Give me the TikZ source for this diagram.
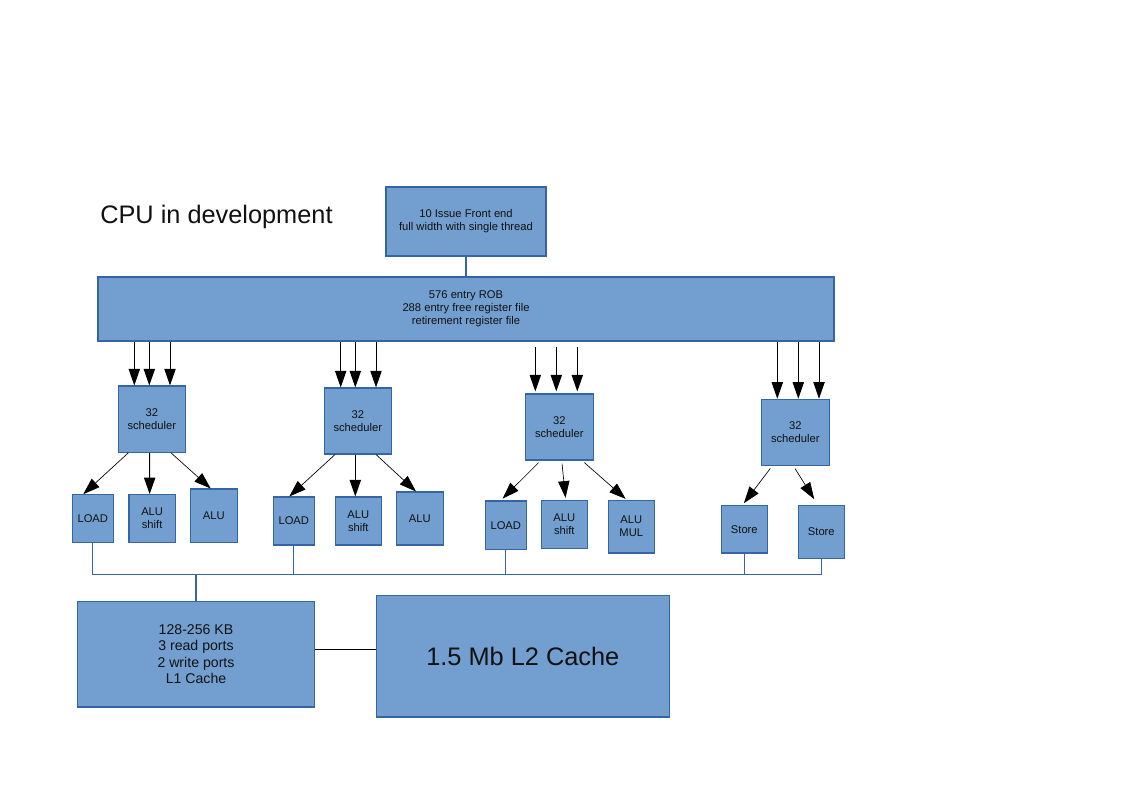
\documentclass[tikz,border=0pt]{standalone}
\usepackage{fontspec}
\setmainfont{Liberation Sans}
\usetikzlibrary{arrows.meta}
\definecolor{boxfill}{HTML}{729FCF}
\definecolor{boxline}{HTML}{3465A4}
\definecolor{txt}{HTML}{111111}
\begin{document}
\begin{tikzpicture}[x=0.75pt,y=-0.75pt,
  box/.style={draw=boxline,fill=boxfill,line width=0.8pt,inner sep=0pt,align=center,text=txt,font=\fontsize{8.4}{9.75}\selectfont},
  sz/.style 2 args={minimum width=#1*0.75pt,minimum height=#2*0.75pt},
  arr/.style={draw=black,line width=0.75pt,-{Triangle[length=12.5pt,width=8.5pt]}},
  thinarr/.style={arr,line width=0.5pt},
  link/.style={draw=boxline,line width=0.9pt},
]
\useasboundingbox (0,0) rectangle (1123,794);

% title
\node[anchor=base west,inner sep=0pt,text=txt,font=\fontsize{19}{23}\selectfont] (title) at (100,223.5) {CPU in development};

% front end and ROB
\node[box,sz={160}{69}] (fe) at (466,221.5) {10 Issue Front end\\full width with single thread};
\node[box,sz={736}{64}] (rob) at (466,309) {576 entry ROB\\288 entry free register file\\retirement register file};

% schedulers
\node[box,sz={67}{66.3}] (s1) at (151.8,419.15) {32\\scheduler};
\node[box,sz={67}{66}] (s2) at (357.8,421) {32\\scheduler};
\node[box,sz={68}{66}] (s3) at (559.3,427) {32\\scheduler};
\node[box,sz={68}{66}] (s4) at (795.3,432.3) {32\\scheduler};

% execution units
\node[box,sz={41}{47.6}] (load1) at (92.8,518.5) {LOAD};
\node[box,sz={46.3}{47.6}] (sh1) at (152.15,518.5) {ALU\\shift};
\node[box,sz={47}{53.3}] (alu1) at (213.8,515.65) {ALU};
\node[box,sz={41}{48}] (load2) at (293.8,521) {LOAD};
\node[box,sz={46}{48}] (sh2) at (358.3,521) {ALU\\shift};
\node[box,sz={47}{53}] (alu2) at (419.8,518.5) {ALU};
\node[box,sz={41}{48.3}] (load3) at (505.8,525.15) {LOAD};
\node[box,sz={46}{48}] (sh3) at (564.3,524.3) {ALU\\shift};
\node[box,sz={46}{52.7}] (mul) at (631.3,526.65) {ALU\\MUL};
\node[box,sz={46}{47.7}] (st1) at (744.3,529.15) {Store};
\node[box,sz={46}{53}] (st2) at (821.3,531.8) {Store};

% caches
\node[box,sz={237.4}{105.7},font=\fontsize{10.6}{12.4}\selectfont] (l1) at (196,654.15) {128-256 KB\\3 read ports\\2 write ports\\L1 Cache};
\node[box,sz={293}{121.7},font=\fontsize{19}{23}\selectfont] (l2) at (522.8,656.15) {1.5 Mb L2 Cache};

% front end -> ROB
\draw[link] (fe.south) -- (rob.north);

% ROB -> schedulers
\foreach \n/\d in {s1/-17.5,s1/-2.5,s1/18.2,s2/-17.1,s2/-2.5,s2/18.2,s4/-18,s4/3,s4/23.7}{
  \coordinate (t) at ([shift={(\d,0)}]\n.north);
  \draw[arr] (rob.south -| t) -- (t);
}
\foreach \d in {-24,-3,18}{
  \coordinate (t) at ([shift={(\d,-2)}]s3.north);
  \draw[arr,shorten <=4pt] (rob.south -| t) -- (t);
}

% schedulers -> units
\draw[thinarr] ([shift={(-23.5,0)}]s1.south) -- ([shift={(-9.5,0)}]load1.north);
\draw[arr] ([shift={(-2.1,0)}]s1.south) -- ([shift={(-2.5,0)}]sh1.north);
\draw[thinarr] ([shift={(19.2,0)}]s1.south) -- ([shift={(-3.1,0)}]alu1.north);

\draw[thinarr] ([shift={(-22.8,0)}]s2.south) -- ([shift={(-4.5,0)}]load2.north);
\draw[arr] ([shift={(-2.5,0)}]s2.south) -- ([shift={(-3,0)}]sh2.north);
\draw[thinarr] ([shift={(18.2,0)}]s2.south) -- ([shift={(-3.8,0)}]alu2.north);

\draw[thinarr,shorten <=2.3pt,shorten >=2pt] ([shift={(-18.6,0)}]s3.south) -- ([shift={(-5.1,0)}]load3.north);
\draw[thinarr,shorten <=2.3pt,shorten >=1.5pt] ([shift={(2.4,0)}]s3.south) -- ([shift={(1.4,0)}]sh3.north);
\draw[thinarr,shorten <=2.3pt,shorten >=1pt] ([shift={(22.7,0)}]s3.south) -- ([shift={(-4.6,0)}]mul.north);

\draw[thinarr,shorten <=2.5pt,shorten >=1.5pt] ([shift={(-23,0)}]s4.south) -- ([shift={(-1.6,0)}]st1.north);
\draw[thinarr,shorten <=2.5pt,shorten >=5pt] ([shift={(-2,0)}]s4.south) -- ([shift={(-3.6,0)}]st2.north);

% bus to L1
\coordinate (bus) at (196.3,574.3);
\draw[link] (load1.south) -- (load1.south |- bus) -- (st2.south |- bus) -- (st2.south);
\draw[link] (load2.south) -- (load2.south |- bus);
\draw[link] (load3.south) -- (load3.south |- bus);
\draw[link] (st1.south) -- (st1.south |- bus);
\draw[link] (l1.north) -- (l1.north |- bus);

% L1 -- L2
\coordinate (m) at ([shift={(0,-5)}]l1.east);
\draw[black,line width=0.75pt] (m) -- (m -| l2.west);
\end{tikzpicture}
\end{document}
